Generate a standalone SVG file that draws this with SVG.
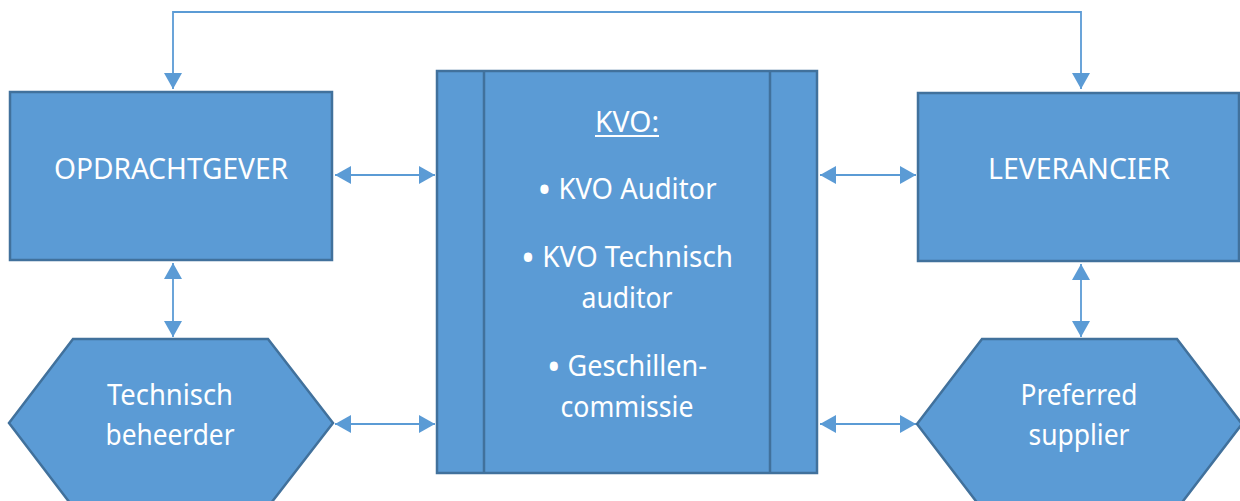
<svg xmlns="http://www.w3.org/2000/svg" width="1240" height="501" viewBox="0 0 1240 501">
<style>
.box{fill:#5B9BD5;stroke:#41719C;stroke-width:2.5}
.inner{fill:none;stroke:#41719C;stroke-width:2.5}
.lbl{font-family:"Noto Sans","DejaVu Sans",sans-serif;font-size:28.5px;fill:#ffffff;text-anchor:middle}
.bul{font-size:38px}
.con{fill:none;stroke:#5B9BD5;stroke-width:1.8}
</style>
<defs>
<marker id="ah" viewBox="0 0 16 18" refX="16" refY="9" markerWidth="16" markerHeight="18" markerUnits="userSpaceOnUse" orient="auto-start-reverse">
<path d="M0,0 L16,9 L0,18 Z" fill="#5B9BD5"/>
</marker>
</defs>
<rect width="1240" height="501" fill="#ffffff"/>
<g id="connectors">
<polyline class="con" points="173,89 173,12 1081,12 1081,89" marker-start="url(#ah)" marker-end="url(#ah)"/>
<line class="con" x1="335" y1="175" x2="435" y2="175" marker-start="url(#ah)" marker-end="url(#ah)"/>
<line class="con" x1="820" y1="175" x2="916" y2="175" marker-start="url(#ah)" marker-end="url(#ah)"/>
<line class="con" x1="335" y1="424" x2="435" y2="424" marker-start="url(#ah)" marker-end="url(#ah)"/>
<line class="con" x1="820" y1="424" x2="916" y2="424" marker-start="url(#ah)" marker-end="url(#ah)"/>
<line class="con" x1="173" y1="263" x2="173" y2="337" marker-start="url(#ah)" marker-end="url(#ah)"/>
<line class="con" x1="1081" y1="264" x2="1081" y2="337" marker-start="url(#ah)" marker-end="url(#ah)"/>
</g>
<g id="opdrachtgever">
<rect class="box" x="10" y="92" width="322" height="168"/>
<text class="lbl" x="171" y="179" textLength="234" lengthAdjust="spacingAndGlyphs">OPDRACHTGEVER</text>
</g>
<g id="leverancier">
<rect class="box" x="918" y="93" width="321" height="168"/>
<text class="lbl" x="1079" y="179" textLength="182" lengthAdjust="spacingAndGlyphs">LEVERANCIER</text>
</g>
<g id="kvo">
<rect class="box" x="437" y="71" width="380" height="402"/>
<line class="inner" x1="484" y1="71" x2="484" y2="473"/>
<line class="inner" x1="770" y1="71" x2="770" y2="473"/>
<text class="lbl" x="627" y="132" textLength="64" lengthAdjust="spacingAndGlyphs">KVO:</text>
<line x1="595" y1="136" x2="659" y2="136" stroke="#ffffff" stroke-width="2"/>
<text class="lbl" x="627" y="199" textLength="179" lengthAdjust="spacingAndGlyphs"><tspan class="bul" dy="4">•</tspan><tspan dy="-4"> KVO Auditor</tspan></text>
<text class="lbl" x="627" y="267" textLength="212" lengthAdjust="spacingAndGlyphs"><tspan class="bul" dy="4">•</tspan><tspan dy="-4"> KVO Technisch</tspan></text>
<text class="lbl" x="627" y="308" textLength="91" lengthAdjust="spacingAndGlyphs">auditor</text>
<text class="lbl" x="627" y="376" textLength="160" lengthAdjust="spacingAndGlyphs"><tspan class="bul" dy="4">•</tspan><tspan dy="-4"> Geschillen-</tspan></text>
<text class="lbl" x="627" y="417" textLength="133" lengthAdjust="spacingAndGlyphs">commissie</text>
</g>
<g id="technisch-beheerder">
<polygon class="box" points="73,339 268,339 333,423 268,507 73,507 9,423"/>
<text class="lbl" x="170" y="405" textLength="126" lengthAdjust="spacingAndGlyphs">Technisch</text>
<text class="lbl" x="170" y="445" textLength="129" lengthAdjust="spacingAndGlyphs">beheerder</text>
</g>
<g id="preferred-supplier">
<polygon class="box" points="982,339 1177,339 1242,424 1177,509 982,509 917,424"/>
<text class="lbl" x="1079" y="405" textLength="117" lengthAdjust="spacingAndGlyphs">Preferred</text>
<text class="lbl" x="1079" y="445" textLength="101" lengthAdjust="spacingAndGlyphs">supplier</text>
</g>
</svg>
